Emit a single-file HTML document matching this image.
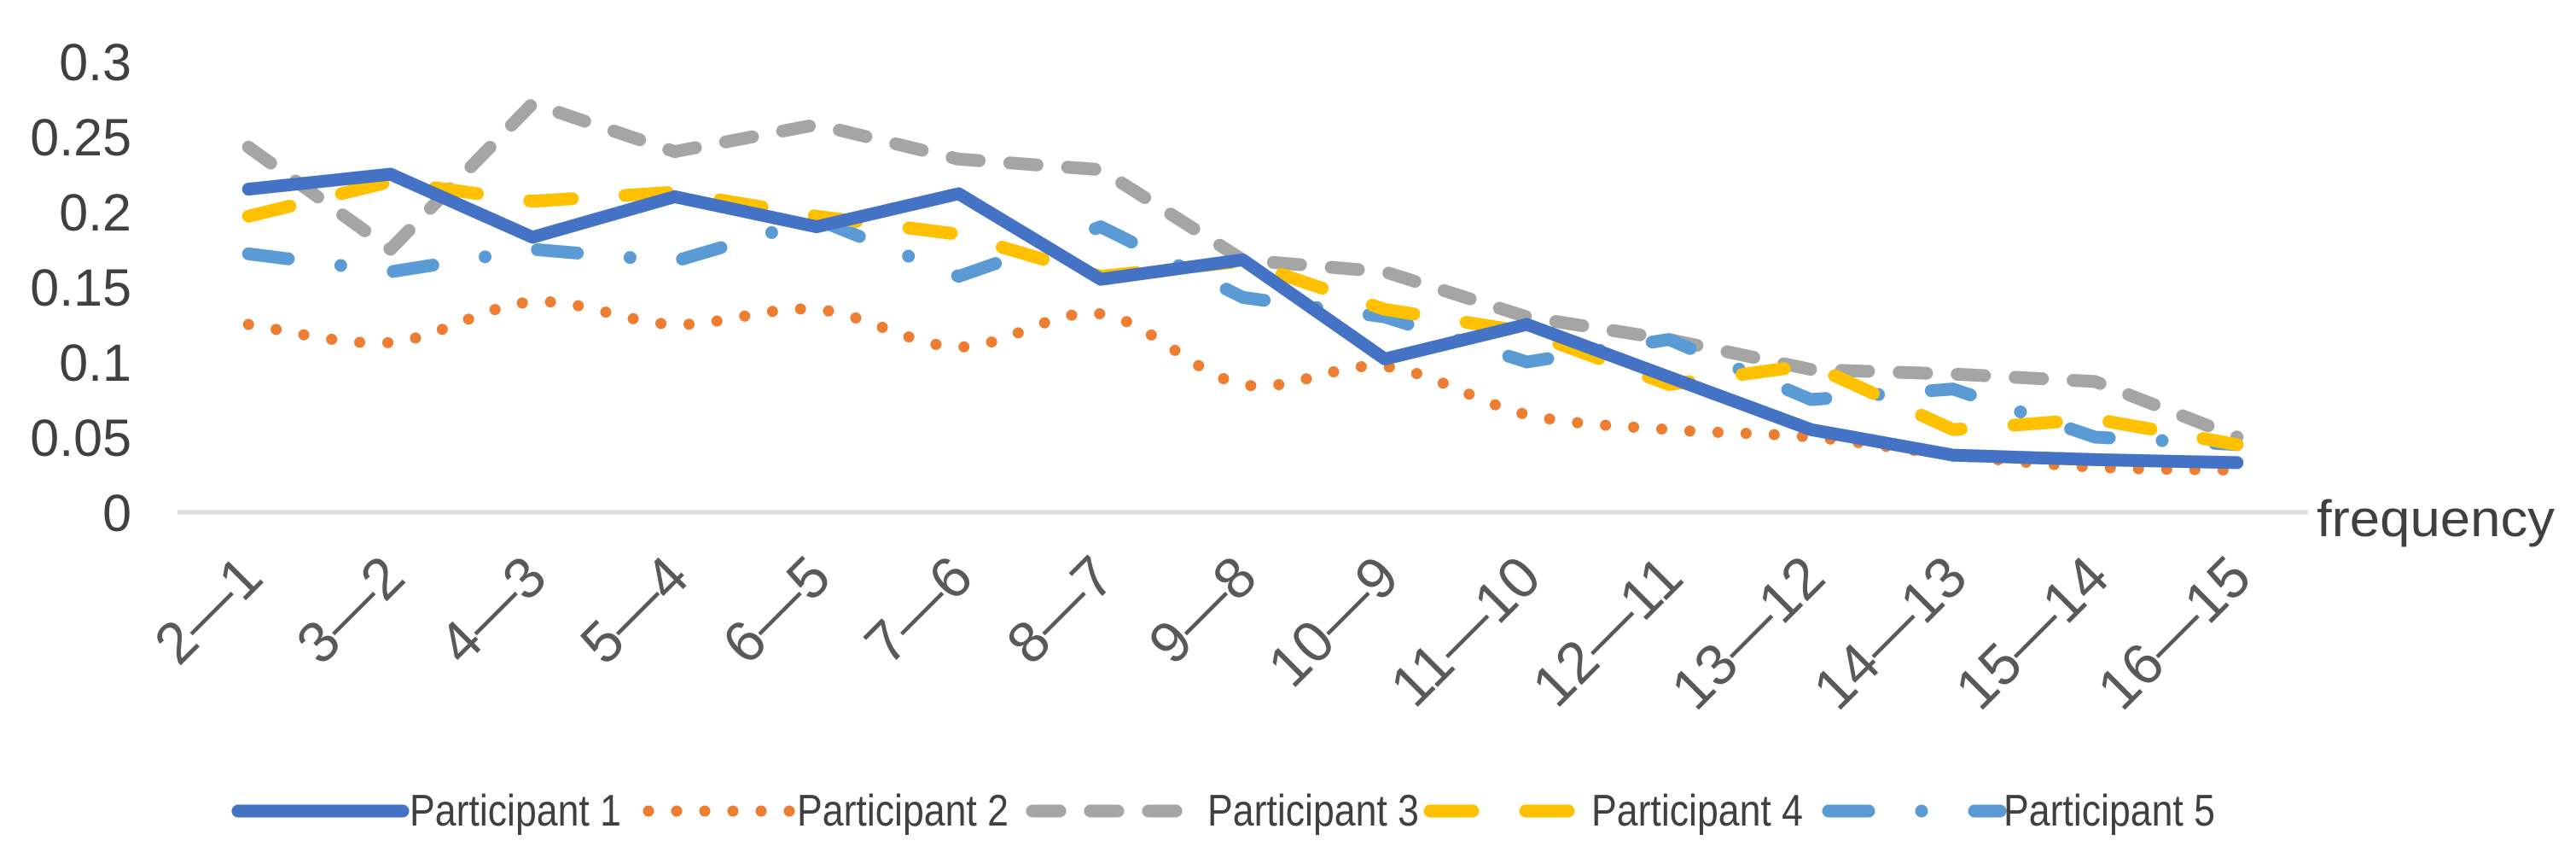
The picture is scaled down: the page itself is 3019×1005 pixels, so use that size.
<!DOCTYPE html>
<html><head><meta charset="utf-8"><style>
html,body{margin:0;padding:0;background:#fff;}
svg{display:block;font-family:"Liberation Sans",sans-serif;}
</style></head><body>
<svg id="chart" width="3019" height="1005" viewBox="0 0 3019 1005" xmlns="http://www.w3.org/2000/svg">
<g id="yaxis"></g>
<g id="xaxis"></g>
<g id="series"></g>
<g id="legend"></g>
</svg>
<script>
const categories = ["2—1","3—2","4—3","5—4","6—5","7—6","8—7","9—8","10—9","11—10","12—11","13—12","14—13","15—14","16—15"];
const yTicks = [0,0.05,0.1,0.15,0.2,0.25,0.3];
const yTickLabels = ["0","0.05","0.1","0.15","0.2","0.25","0.3"];
const seriesNames = ["Participant 1","Participant 2","Participant 3","Participant 4","Participant 5"];
const p1 = [0.215,0.225,0.183,0.21,0.19,0.212,0.155,0.168,0.102,0.125,0.09,0.055,0.038,0.035,0.033];
const p2 = [0.125,0.113,0.14,0.125,0.135,0.11,0.132,0.085,0.097,0.065,0.055,0.05,0.038,0.03,0.028];
const p3 = [0.243,0.175,0.272,0.24,0.258,0.235,0.228,0.168,0.16,0.13,0.115,0.095,0.092,0.087,0.05];
const p4 = [0.197,0.22,0.207,0.213,0.197,0.185,0.157,0.167,0.135,0.12,0.085,0.098,0.055,0.062,0.045];
const p5 = [0.172,0.16,0.175,0.167,0.195,0.157,0.19,0.143,0.13,0.1,0.115,0.075,0.082,0.05,0.045];

const NS = "http://www.w3.org/2000/svg";
const X0 = 208, X1 = 2705, Y0 = 600, Y1 = 72, YMAX = 0.3;
const band = (X1 - X0) / categories.length;
function xPos(i){ return X0 + band * (i + 0.5); }
function yPos(v){ return Y0 - (v / YMAX) * (Y0 - Y1); }
function mk(tag, attrs, parent){ const e = document.createElementNS(NS, tag); for (const k in attrs) e.setAttribute(k, attrs[k]); parent.appendChild(e); return e; }

const yg = document.getElementById('yaxis');
yTicks.forEach((t, i) => {
  const tx = mk('text', {x: 154, y: yPos(t) + 22, 'text-anchor': 'end', 'font-size': 61, fill: '#404040'}, yg);
  
  
  tx.textContent = yTickLabels[i];
});

const xg = document.getElementById('xaxis');
const axl = mk('line', {x1: X0, y1: Y0, x2: X1, y2: Y0, stroke: '#d9d9d9', 'stroke-width': 5}, xg);


categories.forEach((c, i) => {
  const ax = xPos(i) + 20, ay = 680;
  const tx = mk('text', {x: ax, y: ay, 'text-anchor': 'end', 'font-size': 68, fill: '#595959', transform: `rotate(-45 ${ax} ${ay})`}, xg);
  
  
  tx.textContent = c;
});
const ft = mk('text', {x: 2715, y: 628, 'font-size': 60, fill: '#404040', textLength: 279, lengthAdjust: 'spacingAndGlyphs'}, xg);


ft.textContent = 'frequency';

const styles = [
  {data: p1, color: '#4472c4', w: 15, dash: '', smooth: false},
  {data: p2, color: '#ed7d31', w: 13, dash: '0 33', smooth: true},
  {data: p3, color: '#a5a5a5', w: 15, dash: '32 36', smooth: false},
  {data: p4, color: '#ffc000', w: 15, dash: '50 62', smooth: false},
  {data: p5, color: '#5b9bd5', w: 15, dash: '47 62 0 62', smooth: false}
];
function pathFor(data, smooth){
  const pts = data.map((v, i) => [xPos(i), yPos(v)]);
  let d = `M${pts[0][0]},${pts[0][1]}`;
  for (let i = 1; i < pts.length; i++){
    if (!smooth){ d += ` L${pts[i][0]},${pts[i][1]}`; continue; }
    const p0 = pts[Math.max(0, i - 2)], pa = pts[i - 1], pb = pts[i], p3_ = pts[Math.min(pts.length - 1, i + 1)];
    const t = 1/6;
    const c1 = [pa[0] + (pb[0] - p0[0]) * t, pa[1] + (pb[1] - p0[1]) * t];
    const c2 = [pb[0] - (p3_[0] - pa[0]) * t, pb[1] - (p3_[1] - pa[1]) * t];
    d += ` C${c1[0]},${c1[1]} ${c2[0]},${c2[1]} ${pb[0]},${pb[1]}`;
  }
  return d;
}
const sg = document.getElementById('series');
const order = [2, 1, 4, 3, 0];
order.forEach(k => {
  const s = styles[k];
  const p = mk('path', {d: pathFor(s.data, s.smooth), fill: 'none', stroke: s.color, 'stroke-width': s.w, 'stroke-linecap': 'round', 'stroke-linejoin': 'round'}, sg);
  if (s.dash) p.setAttribute('stroke-dasharray', s.dash);
  
  
});

const lg = document.getElementById('legend');
const legendPos = [[279, 472, 480], [760, 930, 934], [1210, 1387, 1415], [1676, 1856, 1865], [2143, 2344, 2348]];
styles.forEach((s, k) => {
  const [a, b, tx] = legendPos[k];
  const g = mk('g', {}, lg);
  
  
  const ln = mk('line', {x1: a, y1: 950, x2: b, y2: 950, stroke: s.color, 'stroke-width': s.w, 'stroke-linecap': 'round'}, g);
  if (s.dash) ln.setAttribute('stroke-dasharray', s.dash);
  
  
  const t = mk('text', {x: tx, y: 967, 'font-size': 52, fill: '#404040', textLength: 248, lengthAdjust: 'spacingAndGlyphs'}, g);
  
  
  t.textContent = seriesNames[k];
});
</script>
</body></html>
